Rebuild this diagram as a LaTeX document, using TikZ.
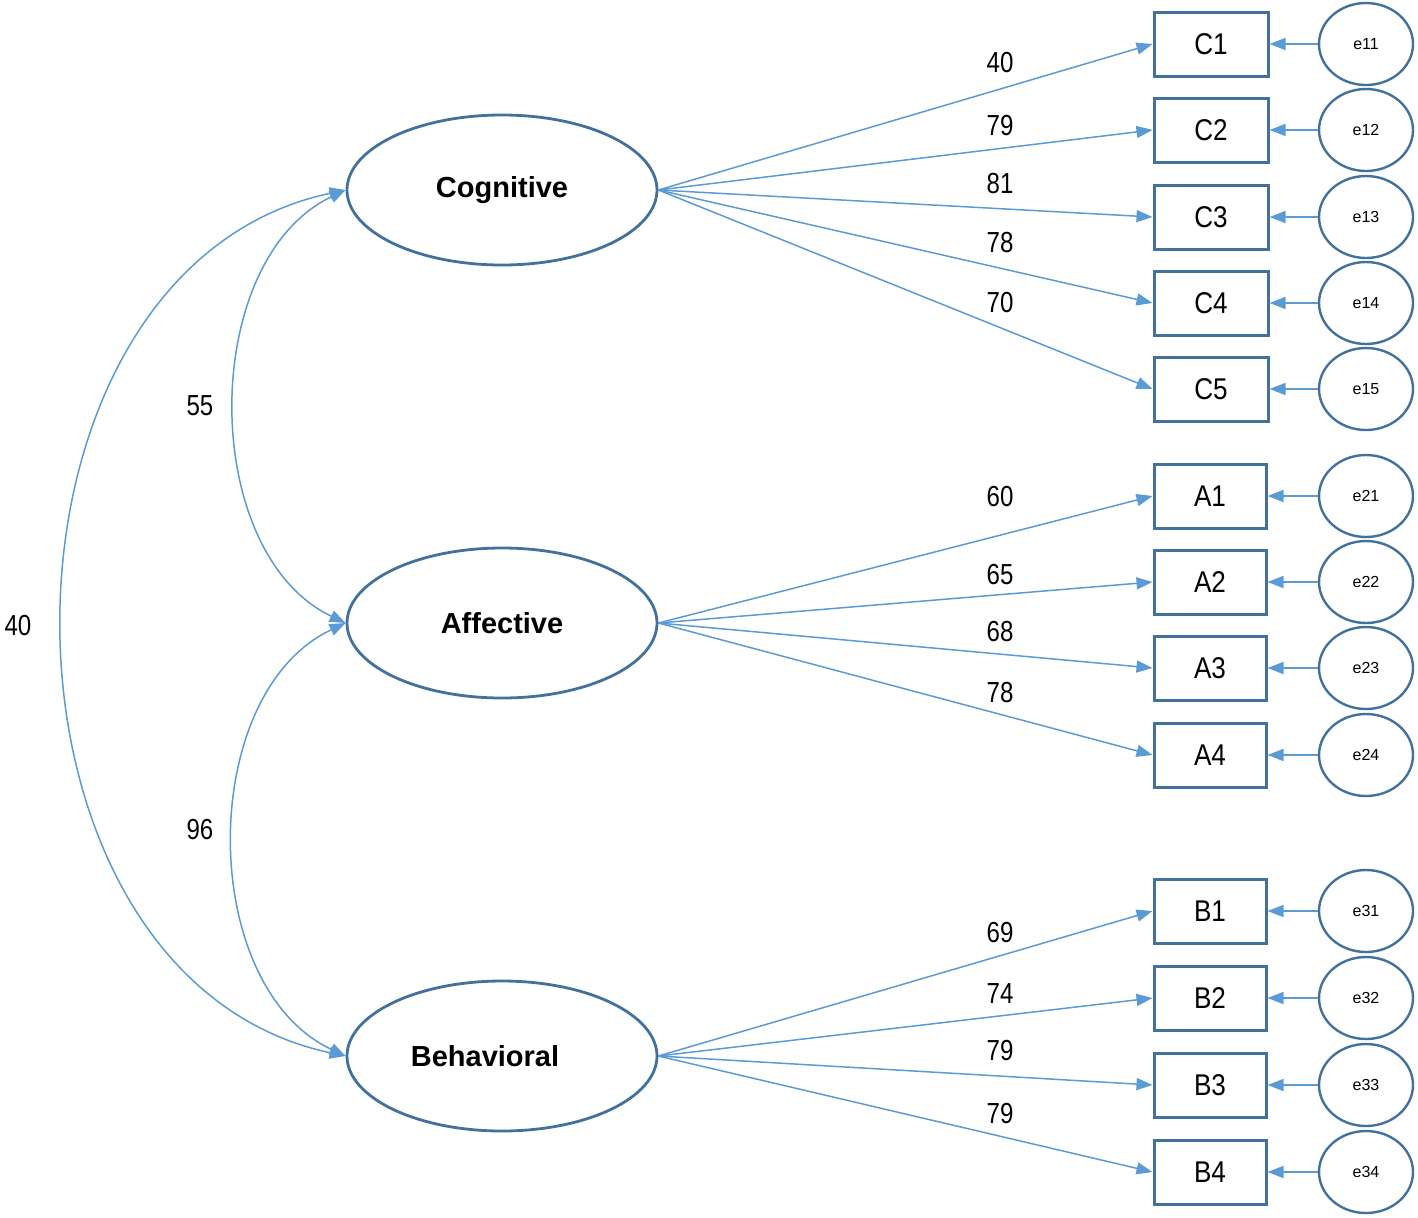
\documentclass[tikz,border=0pt]{standalone}
\usepackage{fontspec}
\setmainfont{Liberation Sans}
\newfontfamily\numfont[FakeStretch=0.83]{Liberation Sans}
\newfontfamily\obsfont[FakeStretch=0.87]{Liberation Sans}
\usetikzlibrary{shapes.geometric,arrows.meta,calc}
\definecolor{shapeblue}{HTML}{41719C}
\definecolor{arrowblue}{HTML}{5B9BD5}
\tikzset{
  x=0.5pt,y=-0.5pt,
  lat/.style={ellipse,draw=shapeblue,line width=1.4pt,minimum width=155pt,minimum height=75pt,inner sep=0pt,font=\fontsize{14.5}{16}\selectfont\bfseries},
  obs/.style={rectangle,draw=shapeblue,line width=1.5pt,minimum width=57pt,minimum height=32pt,inner sep=0pt,font=\obsfont\fontsize{15}{17}\selectfont},
  err/.style={ellipse,draw=shapeblue,line width=1.2pt,minimum width=47pt,minimum height=41pt,inner sep=0pt,font=\fontsize{8}{9}\selectfont},
  tip/.tip={Triangle[length=8pt,width=6pt]},
  conn/.style={draw=arrowblue,line width=0.75pt,-tip},
  cov/.style={draw=arrowblue,line width=0.75pt,tip-tip},
  num/.style={font=\numfont\fontsize{14.5}{16}\selectfont,inner sep=0pt}
}
\begin{document}
\begin{tikzpicture}
\useasboundingbox (0,0) rectangle (1418,1217);
% latent
\node[lat] (cog) at (502,190) {Cognitive};
\node[lat] (aff) at (502,623) {Affective};
\node[lat] (beh) at (502,1056) {Behavioral\hspace*{17pt}};
% observed
\foreach \n/\y in {C1/44,C2/130,C3/217,C4/303,C5/389}{
  \node[obs] (\n) at (1211,\y) {\n};}
\foreach \n/\y in {A1/496,A2/582,A3/668,A4/755,B1/911,B2/998,B3/1085,B4/1172}{
  \node[obs,minimum width=56pt] (\n) at (1210,\y) {\n};}
% errors
\foreach \e/\y/\o in {e11/44/C1,e12/130/C2,e13/217/C3,e14/303/C4,e15/389/C5,e21/496/A1,e22/582/A2,e23/668/A3,e24/755/A4,e31/911/B1,e32/998/B2,e33/1085/B3,e34/1172/B4}{
  \node[err] (\e) at (1366,\y) {\e};
  \draw[conn] (\e.west) -- (\o.east);}
% loadings
\foreach \o in {C1,C2,C3,C4,C5}{\draw[conn] (cog.east) -- (\o.west);}
\foreach \o in {A1,A2,A3,A4}{\draw[conn] (aff.east) -- (\o.west);}
\foreach \o in {B1,B2,B3,B4}{\draw[conn] (beh.east) -- (\o.west);}
% loading labels
\foreach \v/\y/\k in {40/63/l1,79/126/l2,81/184/l3,78/243/l4,70/303/l5,60/497/l6,65/575/l7,68/632/l8,78/693/l9,69/932/l10,74/994/l11,79/1050/l12,79/1113/l13}{
  \node[num] (\k) at (1000,\y) {\v};}
% covariances
\draw[cov] (cog.west) .. controls ($(cog.west)+(-147,70)$) and ($(aff.west)+(-147,-70)$) .. (aff.west);
\draw[cov] (aff.west) .. controls ($(aff.west)+(-149,70)$) and ($(beh.west)+(-149,-70)$) .. (beh.west);
\draw[cov] (cog.west) .. controls ($(cog.west)+(-376,80)$) and ($(beh.west)+(-376,-80)$) .. (beh.west);
\node[num] (c1) at (200,406) {55};
\node[num] (c2) at (200,829) {96};
\node[num] (c3) at (18,626) {40};
\end{tikzpicture}
\end{document}
